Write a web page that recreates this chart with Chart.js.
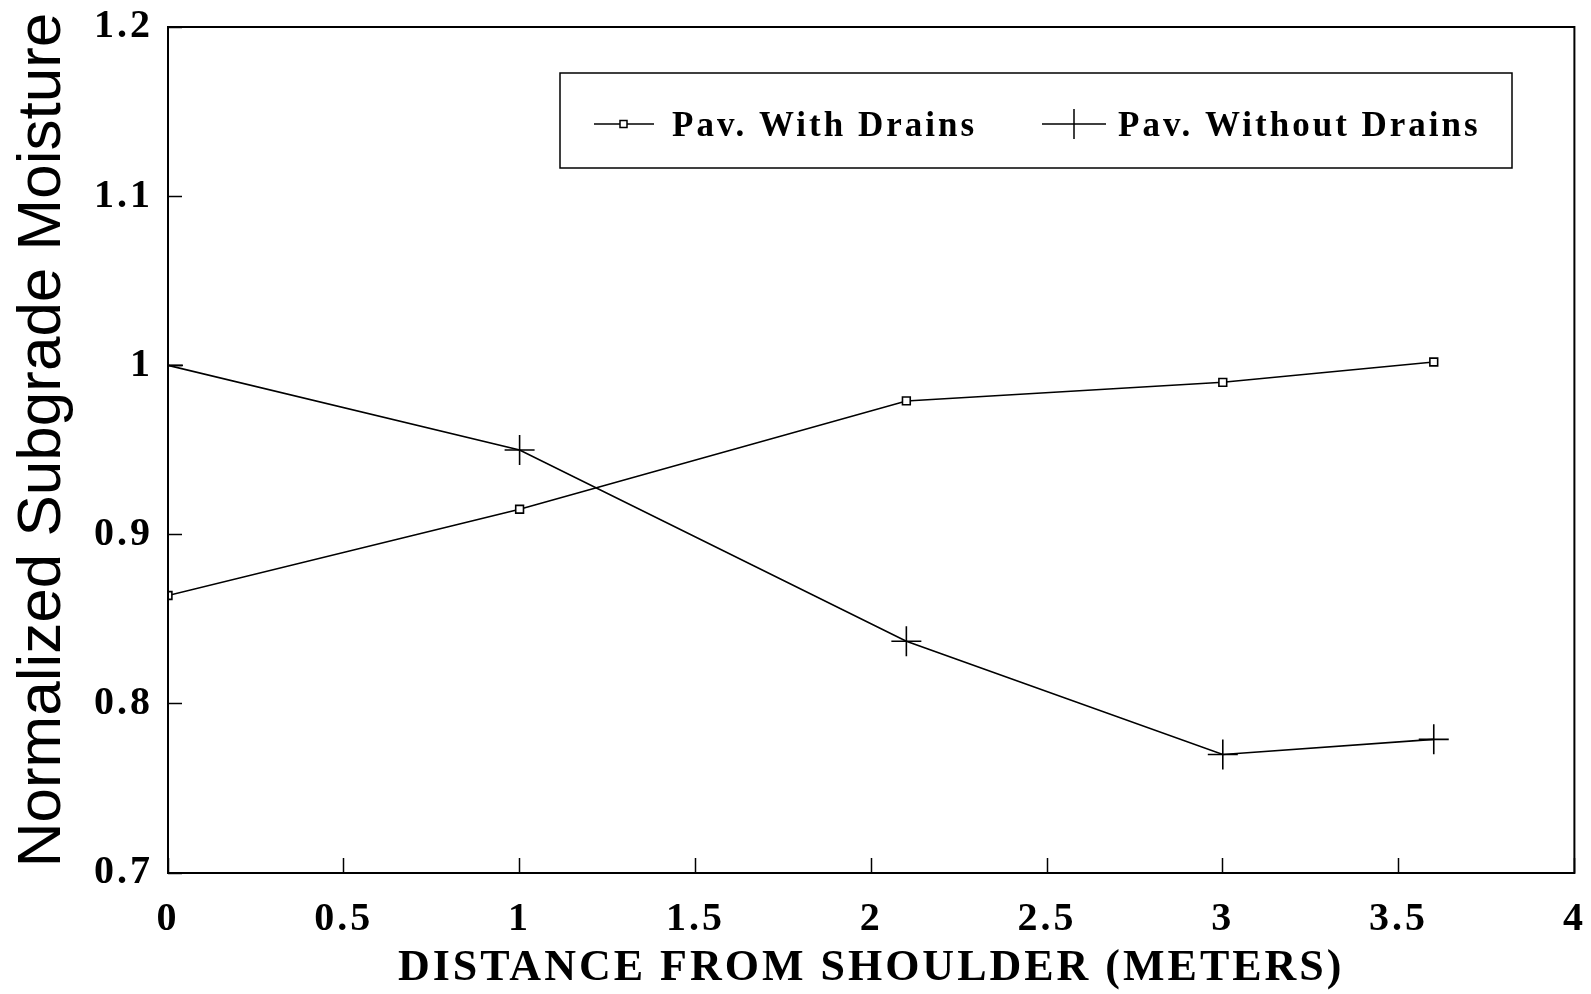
<!DOCTYPE html>
<html>
<head>
<meta charset="utf-8">
<title>Normalized Subgrade Moisture</title>
<script src="https://cdn.jsdelivr.net/npm/chart.js@4.4.1/dist/chart.umd.min.js"></script>
<style>
  html, body { margin: 0; padding: 0; background: #fff; }
  canvas { display: block; }
</style>
</head>
<body>
<canvas id="moistureChart" width="1591" height="994"></canvas>
<script>
// Values
const distances = [0, 1, 2.1, 3, 3.6]
const withDrains = [0.864, 0.915, 0.979, 0.99, 1.002]
const withoutDrains = [1.0, 0.95, 0.837, 0.77, 0.779]
const seriesNames = ['Pav. With Drains', 'Pav. Without Drains']

const xTicks = [0, 0.5, 1, 1.5, 2, 2.5, 3, 3.5, 4]
const xTickLabels = ['0', '0.5', '1', '1.5', '2', '2.5', '3', '3.5', '4']
const yTicks = [0.7, 0.8, 0.9, 1, 1.1, 1.2]
const yTickLabels = ['0.7', '0.8', '0.9', '1', '1.1', '1.2']

const xTitle = 'DISTANCE FROM SHOULDER (METERS)'
const yTitle = 'Normalized Subgrade Moisture'

const serif = "'Liberation Serif', 'Times New Roman', serif"
const sans = "'Liberation Sans', Arial, sans-serif"

const toPoints = (ys) => distances.map((x, i) => ({ x: x, y: ys[i] }))

// fixed axis boxes, and no extra padding asked for by the tick labels
const fixAxis = (size, key) => (scale) => {
  scale[key] = size
  scale.paddingTop = 0
  scale.paddingBottom = 0
  scale.paddingLeft = 0
  scale.paddingRight = 0
}

// box around the plot, the boxed legend and the sans-serif y title
const decorations = {
  id: 'decorations',
  beforeDraw(chart) {
    // the serif labels of the original are spaced out a little
    chart.ctx.letterSpacing = '3px'
  },
  afterDraw(chart) {
    const ctx = chart.ctx
    const area = chart.chartArea
    ctx.save()
    ctx.strokeStyle = '#000'
    ctx.lineWidth = 2
    ctx.strokeRect(area.left, area.top, area.right - area.left, area.bottom - area.top)

    // legend
    ctx.lineWidth = 1.5
    ctx.strokeRect(560, 73, 952, 95)
    const ly = 124
    ctx.beginPath()
    ctx.moveTo(594, ly)
    ctx.lineTo(654, ly)
    ctx.stroke()
    ctx.fillStyle = '#fff'
    ctx.fillRect(620, ly - 3.5, 7, 7)
    ctx.strokeRect(620, ly - 3.5, 7, 7)
    ctx.beginPath()
    ctx.moveTo(1042, ly)
    ctx.lineTo(1106, ly)
    ctx.moveTo(1074, ly - 15)
    ctx.lineTo(1074, ly + 15)
    ctx.stroke()

    ctx.fillStyle = '#000'
    ctx.font = 'bold 35px ' + serif
    ctx.letterSpacing = '3px'
    ctx.textAlign = 'left'
    ctx.textBaseline = 'middle'
    ctx.fillText(chart.data.datasets[0].label, 672, ly + 3)
    ctx.fillText(chart.data.datasets[1].label, 1118, ly + 3)

    // y title
    ctx.letterSpacing = '0px'
    ctx.font = '62px ' + sans
    ctx.translate(60, 440)
    ctx.rotate(-Math.PI / 2)
    ctx.textAlign = 'center'
    ctx.textBaseline = 'alphabetic'
    ctx.fillText(yTitle, 0, 0)
    ctx.restore()
  }
}

const lineStyle = {
  borderColor: '#000',
  borderWidth: 1.6,
  pointBorderColor: '#000',
  pointBackgroundColor: '#fff',
  pointBorderWidth: 1.6,
  tension: 0,
  fill: false
}

new Chart(document.getElementById('moistureChart'), {
  type: 'line',
  data: {
    datasets: [
      Object.assign({
        label: seriesNames[0],
        data: toPoints(withDrains),
        pointStyle: 'rect',
        pointRadius: 5.5
      }, lineStyle),
      Object.assign({
        label: seriesNames[1],
        data: toPoints(withoutDrains),
        pointStyle: 'cross',
        pointRadius: 15
      }, lineStyle)
    ]
  },
  options: {
    responsive: false,
    animation: false,
    devicePixelRatio: 1,
    layout: {
      padding: { top: 27, right: 14, bottom: 0, left: 0 }
    },
    plugins: {
      legend: { display: false },
      tooltip: { enabled: false }
    },
    scales: {
      x: {
        type: 'linear',
        min: 0,
        max: 4,
        afterBuildTicks: (scale) => {
          scale.ticks = xTicks.map((v) => ({ value: v }))
        },
        afterFit: fixAxis(121, 'height'),
        border: { display: false },
        grid: {
          drawOnChartArea: false,
          drawTicks: true,
          tickLength: -15,
          tickColor: '#000',
          tickWidth: 1.5
        },
        ticks: {
          color: '#000',
          padding: 42,
          maxRotation: 0,
          autoSkip: false,
          font: { family: serif, size: 40, weight: 'bold', lineHeight: 1 },
          callback: (value, index) => xTickLabels[index]
        },
        title: {
          display: true,
          text: xTitle,
          color: '#000',
          padding: { top: 0, bottom: 3 },
          font: { family: serif, size: 44, weight: 'bold', lineHeight: 1 }
        }
      },
      y: {
        type: 'linear',
        min: 0.7,
        max: 1.2,
        afterBuildTicks: (scale) => {
          scale.ticks = yTicks.map((v) => ({ value: v }))
        },
        afterFit: fixAxis(168, 'width'),
        border: { display: false },
        grid: {
          drawOnChartArea: false,
          drawTicks: true,
          tickLength: -14,
          tickColor: '#000',
          tickWidth: 1.5
        },
        ticks: {
          color: '#000',
          padding: 29,
          autoSkip: false,
          font: { family: serif, size: 40, weight: 'bold', lineHeight: 1 },
          callback: (value, index) => yTickLabels[index]
        }
      }
    }
  },
  plugins: [decorations]
})
</script>
</body>
</html>
